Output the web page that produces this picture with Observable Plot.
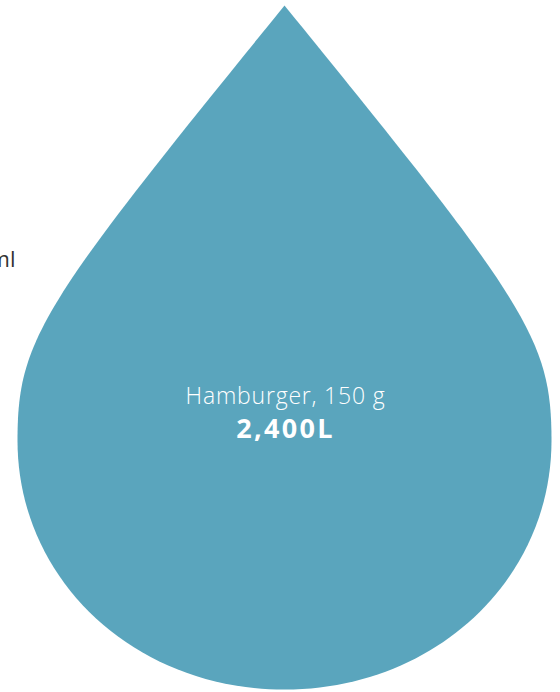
<!DOCTYPE html>
<html><head><meta charset="utf-8">
<script src="https://cdn.jsdelivr.net/npm/d3@7"></script>
<script src="https://cdn.jsdelivr.net/npm/@observablehq/plot@0.6"></script>
<style>
html,body{margin:0;padding:0;background:#fff;overflow:hidden}
</style>
</head><body><div id="chart"></div>
<script>
// Items (left neighbour only shows the tail of its label)
const items = ["Glass of milk, 200 ml", "Hamburger, 150 g"];
const dropNames = ["Hamburger, 150 g"];
const dropLiters = [2400];

const drops = dropNames.map((name, i) => ({name, liters: dropLiters[i]}));
const neighbours = items.filter(n => !dropNames.includes(n)).map(name => ({name}));

// teardrop glyph; size = r*r*PI
const dropSymbol = {
  draw(ctx, size) {
    const r = Math.sqrt(size / Math.PI);
    const b = 0.933 * r, k = 0.56;
    ctx.moveTo(0, -1.629 * r);
    ctx.bezierCurveTo(0.91 * r, -0.51 * r, r, -0.38 * r, r, 0);
    ctx.bezierCurveTo(r, k * b, k * r, b, 0, b);
    ctx.bezierCurveTo(-k * r, b, -r, k * b, -r, 0);
    ctx.bezierCurveTo(-r, -0.38 * r, -0.91 * r, -0.51 * r, 0, -1.629 * r);
    ctx.closePath();
  }
};

const chart = Plot.plot({
  width: 560,
  height: 692,
  marginTop: 188,
  marginBottom: 0,
  marginLeft: 0,
  marginRight: 0,
  x: {type: "point", domain: items, range: [15, 284], padding: 0, axis: null},
  r: {type: "sqrt", domain: [0, 2400], range: [0, 267]},
  marks: [
    Plot.dot(drops, {x: "name", r: "liters", symbol: dropSymbol, fill: "#5aa5bd", stroke: "none", frameAnchor: "middle"}),
    Plot.text(drops, {x: "name", text: "name", frameAnchor: "middle", dx: 1, dy: -44, fill: "white",
      fontFamily: "Open Sans", fontSize: 23, fontWeight: 300}),
    Plot.text(drops, {x: "name", text: d => d3.format(",")(d.liters) + "L", frameAnchor: "middle", dx: 1, dy: -11, fill: "white",
      fontFamily: "Open Sans", fontSize: 27, fontWeight: 700}),
    Plot.text(neighbours, {x: "name", text: "name", frameAnchor: "middle", dy: -181, textAnchor: "end", fill: "#333",
      fontFamily: "Open Sans", fontSize: 22, fontWeight: 400})
  ]
});
chart.style.overflow = "visible";
const textGroups = chart.querySelectorAll('g[aria-label="text"]');
const spacings = ["0.8px", "2.3px", "0px"];
textGroups.forEach((g, i) => g.style.letterSpacing = spacings[i] || "0px");
document.getElementById("chart").appendChild(chart);
</script>
</body></html>
